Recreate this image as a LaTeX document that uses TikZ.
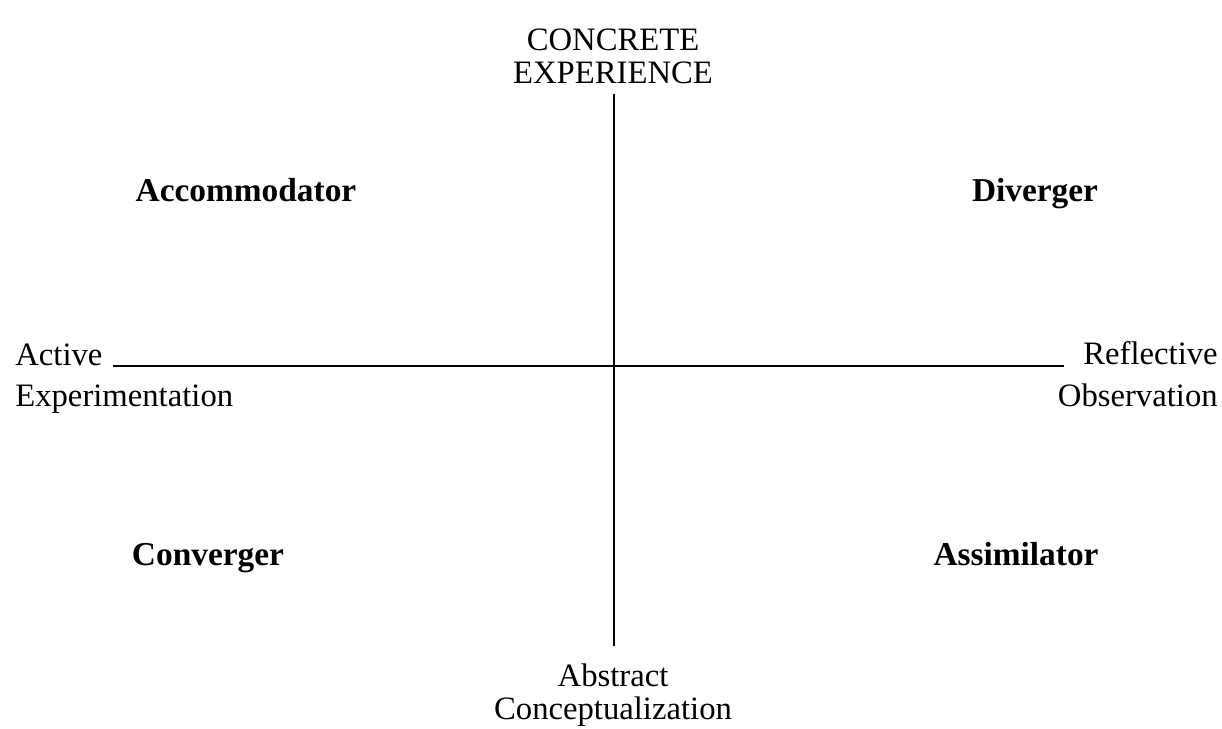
\documentclass[tikz,border=0pt]{standalone}
\usepackage{fontspec}
\setmainfont{Liberation Serif}
\begin{document}
\begin{tikzpicture}[x=0.02cm,y=-0.02cm,
  lbl/.style={font=\fontsize{18.6}{22}\selectfont, inner sep=0pt},
  style/.style={font=\fontsize{19}{22}\selectfont\bfseries, inner sep=0pt, anchor=base},
  axis/.style={line width=0.65pt, black}]
\useasboundingbox (0,0) rectangle (1222,729);
\node[lbl, anchor=base] (ce1) at (613,51) {CONCRETE};
\node[lbl, anchor=base] (ce2) at (613,84) {EXPERIENCE};
\node[lbl, anchor=base] (ac1) at (613,686) {Abstract};
\node[lbl, anchor=base] (ac2) at (613,719) {Conceptualization};
\node[lbl, anchor=base west] (ae1) at (15,365) {Active};
\node[lbl, anchor=base west] (ae2) at (15,406) {Experimentation};
\node[lbl, anchor=base east] (ro1) at (1218,364) {Reflective};
\node[lbl, anchor=base east] (ro2) at (1218,406) {Observation};
\node[style] (acc) at (246,202) {Accommodator};
\node[style] (div) at (1035,202) {Diverger};
\node[style] (con) at (208,565) {Converger};
\node[style] (ass) at (1016,565) {Assimilator};
\coordinate (vtop) at (614,94);
\coordinate (vbot) at (614,646);
\coordinate (hl) at (113,366);
\coordinate (hr) at (1064,366);
\draw[axis] (vtop) -- (vbot);
\draw[axis] (hl) -- (hr);
\end{tikzpicture}
\end{document}
